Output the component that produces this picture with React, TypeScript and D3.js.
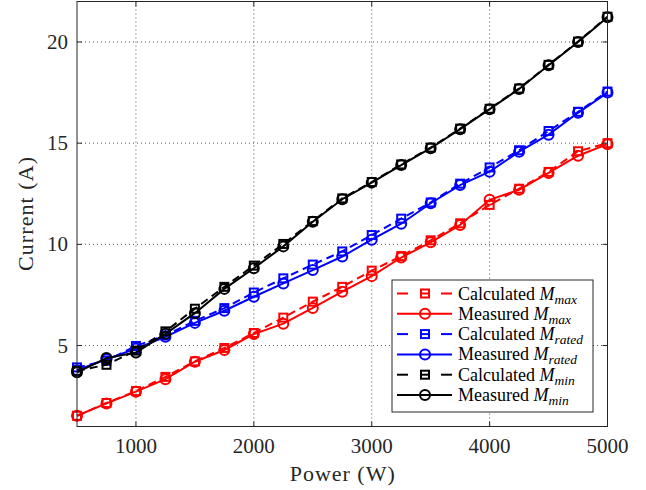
import React from "react";
import * as d3 from "d3";

const power = [500, 750, 1000, 1250, 1500, 1750, 2000, 2250, 2500, 2750, 3000, 3250, 3500, 3750, 4000, 4250, 4500, 4750, 5000];

const calcMax = [1.53, 2.16, 2.75, 3.45, 4.22, 4.88, 5.62, 6.38, 7.17, 7.9, 8.7, 9.42, 10.2, 11.04, 11.95, 12.75, 13.58, 14.6, 15.0];
const measMax = [1.53, 2.14, 2.72, 3.34, 4.2, 4.78, 5.57, 6.08, 6.86, 7.66, 8.43, 9.35, 10.1, 10.96, 12.2, 12.7, 13.53, 14.38, 14.95];
const calcRated = [3.92, 4.25, 4.98, 5.5, 6.22, 6.85, 7.62, 8.32, 9.0, 9.65, 10.46, 11.27, 12.07, 13.0, 13.8, 14.65, 15.6, 16.55, 17.55];
const measRated = [3.78, 4.32, 4.85, 5.43, 6.12, 6.72, 7.41, 8.07, 8.73, 9.4, 10.23, 11.02, 12.03, 12.93, 13.59, 14.58, 15.42, 16.5, 17.5];
const calcMin = [3.75, 4.05, 4.75, 5.7, 6.82, 7.9, 8.95, 10.02, 11.15, 12.27, 13.08, 13.95, 14.78, 15.72, 16.7, 17.7, 18.87, 20.02, 21.25];
const measMin = [3.68, 4.38, 4.66, 5.58, 6.6, 7.8, 8.82, 9.9, 11.12, 12.23, 13.05, 13.92, 14.75, 15.69, 16.68, 17.68, 18.85, 20.0, 21.22];

const xTicks = [1000, 2000, 3000, 4000, 5000];
const yTicks = [5, 10, 15, 20];

const seriesNames = ["Calculated", "Measured", "Calculated", "Measured", "Calculated", "Measured"];
const seriesSubs = ["max", "max", "rated", "rated", "min", "min"];
const seriesColors = ["#ff0000", "#ff0000", "#0000ff", "#0000ff", "#000000", "#000000"];
const seriesData = [calcMax, measMax, calcRated, measRated, calcMin, measMin];
const seriesDashed = [true, false, true, false, true, false];

const FONT = "'Liberation Serif', 'Times New Roman', serif";

export default function App() {
  const W = 646, H = 490;
  const left = 77, right = 607.5, top = 1.5, bottom = 426.5;
  const x = d3.scaleLinear().domain([500, 5000]).range([left, right]);
  const y = d3.scaleLinear().domain([1, 22]).range([bottom, top]);
  const line = d3.line<number>().x((_, i) => x(power[i])).y((d) => y(d));
  const axisColor = "#262626";
  const tickLen = 5;

  const legX = 392, legY = 280, legW = 201, legH = 132;
  const rowY = (i: number) => legY + 13.5 + i * 20.3;

  const marker = (si: number, cx: number, cy: number, key: string) => {
    const c = seriesColors[si];
    if (seriesDashed[si]) {
      return <rect key={key} x={cx - 4} y={cy - 4} width={8} height={8} fill="none" stroke={c} strokeWidth={2} />;
    }
    return <circle key={key} cx={cx} cy={cy} r={5} fill="none" stroke={c} strokeWidth={2} />;
  };

  return (
    <svg width={W} height={H} style={{ position: "absolute", left: 0, top: 0, background: "#fff" }} fontFamily={FONT}>
      <rect x={0} y={0} width={W} height={H} fill="#fff" />
      {/* grid */}
      {xTicks.map((t) => (
        <line key={"gx" + t} x1={x(t)} x2={x(t)} y1={top} y2={bottom} stroke="#262626" strokeWidth={1} strokeDasharray="1,3" opacity={0.8} />
      ))}
      {yTicks.map((t) => (
        <line key={"gy" + t} x1={left} x2={right} y1={y(t)} y2={y(t)} stroke="#262626" strokeWidth={1} strokeDasharray="1,3" opacity={0.8} />
      ))}
      {/* series */}
      {seriesData.map((data, si) => (
        <g key={"s" + si}>
          <path d={line(data) || ""} fill="none" stroke={seriesColors[si]} strokeWidth={2} strokeDasharray={seriesDashed[si] ? "8,5" : undefined} />
          {data.map((v, i) => marker(si, x(power[i]), y(v), "m" + si + "-" + i))}
        </g>
      ))}
      {/* axes box */}
      <rect x={left} y={top} width={right - left} height={bottom - top} fill="none" stroke={axisColor} strokeWidth={1} />
      {xTicks.map((t) => (
        <g key={"tx" + t}>
          <line x1={x(t)} x2={x(t)} y1={bottom} y2={bottom - tickLen} stroke={axisColor} />
          <line x1={x(t)} x2={x(t)} y1={top} y2={top + tickLen} stroke={axisColor} />
          <text x={x(t)} y={453} textAnchor="middle" fontSize={21} fill={axisColor}>{t}</text>
        </g>
      ))}
      {yTicks.map((t) => (
        <g key={"ty" + t}>
          <line x1={left} x2={left + tickLen} y1={y(t)} y2={y(t)} stroke={axisColor} />
          <line x1={right} x2={right - tickLen} y1={y(t)} y2={y(t)} stroke={axisColor} />
          <text x={68} y={y(t) + 7} textAnchor="end" fontSize={21} fill={axisColor}>{t}</text>
        </g>
      ))}
      <text x={(left + right) / 2} y={481} textAnchor="middle" fontSize={22} fill={axisColor} textLength={105} lengthAdjust="spacing">Power (W)</text>
      <text transform={`translate(33,${(top + bottom) / 2}) rotate(-90)`} textAnchor="middle" fontSize={22} fill={axisColor} textLength={114} lengthAdjust="spacing">Current (A)</text>
      {/* legend */}
      <rect x={legX} y={legY} width={legW} height={legH} fill="#fff" stroke={axisColor} strokeWidth={1} />
      {seriesNames.map((name, i) => {
        const ry = rowY(i);
        const c = seriesColors[i];
        return (
          <g key={"l" + i}>
            {seriesDashed[i] ? (
              <>
                <line x1={397} x2={408} y1={ry} y2={ry} stroke={c} strokeWidth={2} />
                <line x1={441} x2={452} y1={ry} y2={ry} stroke={c} strokeWidth={2} />
                <line x1={421} x2={429} y1={ry} y2={ry} stroke={c} strokeWidth={2} />
              </>
            ) : (
              <line x1={397} x2={452} y1={ry} y2={ry} stroke={c} strokeWidth={2} />
            )}
            {marker(i, 425, ry, "lm" + i)}
            <text x={458} y={ry + 6} fontSize={18} fill="#000">
              {name + " "}
              <tspan fontStyle="italic">M</tspan>
              <tspan fontStyle="italic" fontSize={13.5} dy={4}>{seriesSubs[i]}</tspan>
            </text>
          </g>
        );
      })}
    </svg>
  );
}
